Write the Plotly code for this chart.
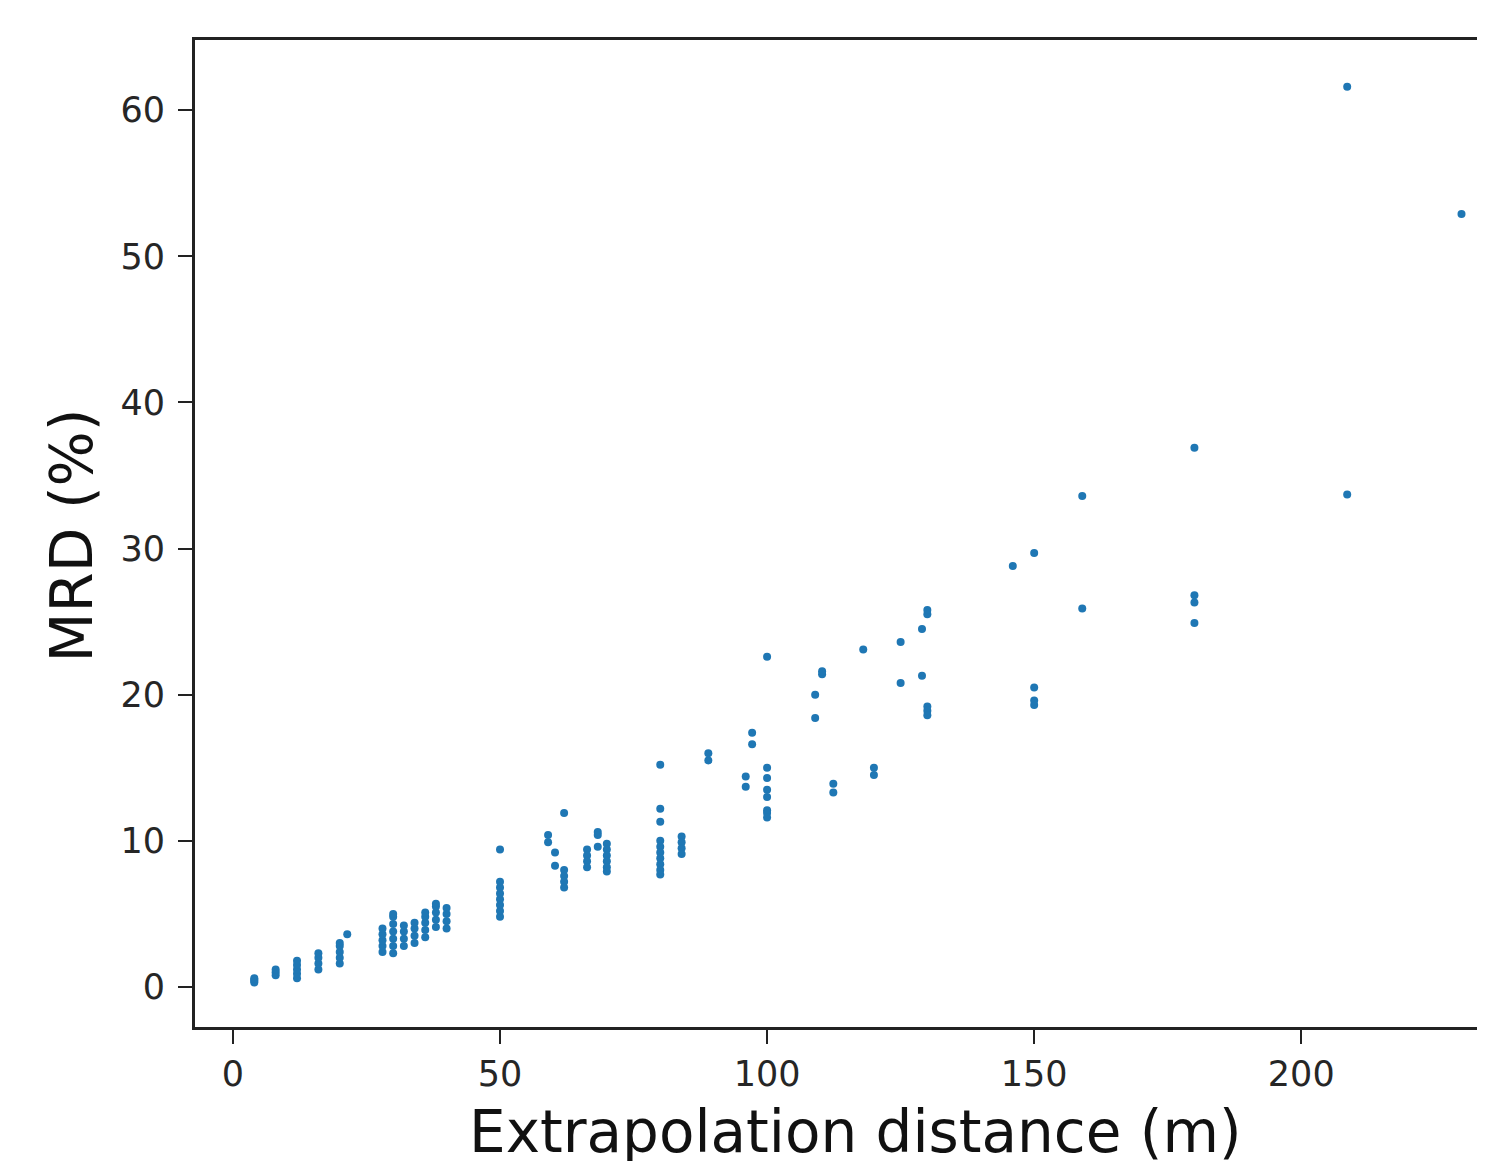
import plotly.graph_objects as go

# extrapolation distance (m) for each group of points, and the MRD (%) values read at that distance
distances = [4, 8, 12, 16, 20, 21.4, 28, 30, 32, 34, 36, 38, 40,
             50, 59, 60.3, 62, 66.3, 68.3, 70, 80, 84, 89, 96, 97.2, 100,
             109, 110.3, 112.4, 118, 120, 125, 129, 130, 146, 150, 159, 180, 208.6, 230]
mrd_groups = [
    [0.3, 0.4, 0.5, 0.6],
    [0.8, 1.0, 1.2],
    [0.6, 0.9, 1.2, 1.5, 1.8],
    [1.2, 1.6, 2.0, 2.3],
    [1.6, 2.0, 2.4, 2.8, 3.0],
    [3.6],
    [2.4, 2.8, 3.2, 3.6, 4.0],
    [2.3, 2.8, 3.3, 3.8, 4.3, 4.8, 5.0],
    [2.8, 3.3, 3.8, 4.2],
    [3.0, 3.5, 4.0, 4.4],
    [3.4, 3.9, 4.4, 4.8, 5.1],
    [4.1, 4.6, 5.1, 5.5, 5.7],
    [4.0, 4.5, 5.0, 5.4],
    [4.8, 5.2, 5.6, 6.0, 6.4, 6.8, 7.2, 9.4],
    [10.4, 9.9],
    [9.2, 8.3],
    [11.9, 8.0, 7.6, 7.2, 6.8],
    [9.4, 9.0, 8.6, 8.2],
    [10.6, 10.4, 9.6],
    [9.8, 9.4, 9.0, 8.6, 8.2, 7.9],
    [15.2, 12.2, 11.3, 10.0, 9.6, 9.2, 8.8, 8.4, 8.0, 7.7],
    [10.3, 9.9, 9.5, 9.1],
    [15.5, 16.0],
    [14.4, 13.7],
    [17.4, 16.6],
    [22.6, 15.0, 14.3, 13.5, 13.0, 12.1, 11.9, 11.6],
    [20.0, 18.4],
    [21.4, 21.6],
    [13.3, 13.9],
    [23.1],
    [14.5, 15.0],
    [23.6, 20.8],
    [24.5, 21.3],
    [25.5, 25.8, 19.2, 18.9, 18.6],
    [28.8],
    [29.7, 20.5, 19.3, 19.6],
    [33.6, 25.9],
    [36.9, 26.8, 26.3, 24.9],
    [61.6, 33.7],
    [52.9],
]

x_vals = []
y_vals = []
for d, ys in zip(distances, mrd_groups):
    for v in ys:
        x_vals.append(d)
        y_vals.append(v)

fig = go.Figure(go.Scatter(
    x=x_vals,
    y=y_vals,
    mode="markers",
    marker=dict(color="#1f77b4", size=8, line=dict(width=0)),
    showlegend=False,
))

axis_common = dict(
    showgrid=False,
    zeroline=False,
    showline=True,
    linecolor="#222222",
    linewidth=3,
    ticks="outside",
    ticklen=14,
    tickwidth=2,
    tickcolor="#222222",
    tickfont=dict(family="DejaVu Sans", size=35, color="#262626"),
)

fig.update_xaxes(range=[-7.1, 234.4], tickvals=[0, 50, 100, 150, 200], mirror=True, **axis_common)
fig.update_yaxes(range=[-2.74, 64.8], tickvals=[0, 10, 20, 30, 40, 50, 60],
                 ticklabelstandoff=6, **axis_common)

# the page body has an 8px margin, so the figure is laid out 8px smaller
fig.add_annotation(
    text="Extrapolation distance (m)", xref="paper", yref="paper",
    x=0.512, y=-0.106, xanchor="center", yanchor="middle", showarrow=False,
    font=dict(family="DejaVu Sans", size=58, color="#111111"),
)
fig.add_annotation(
    text="MRD (%)", xref="paper", yref="paper", textangle=-90,
    x=-0.0953, y=0.498, xanchor="center", yanchor="middle", showarrow=False,
    font=dict(family="DejaVu Sans", size=58, color="#111111"),
)

fig.update_layout(
    width=1477,
    height=1153,
    margin=dict(l=187, r=0, t=32, b=134),
    paper_bgcolor="white",
    plot_bgcolor="white",
)

fig.write_html("out.html")
